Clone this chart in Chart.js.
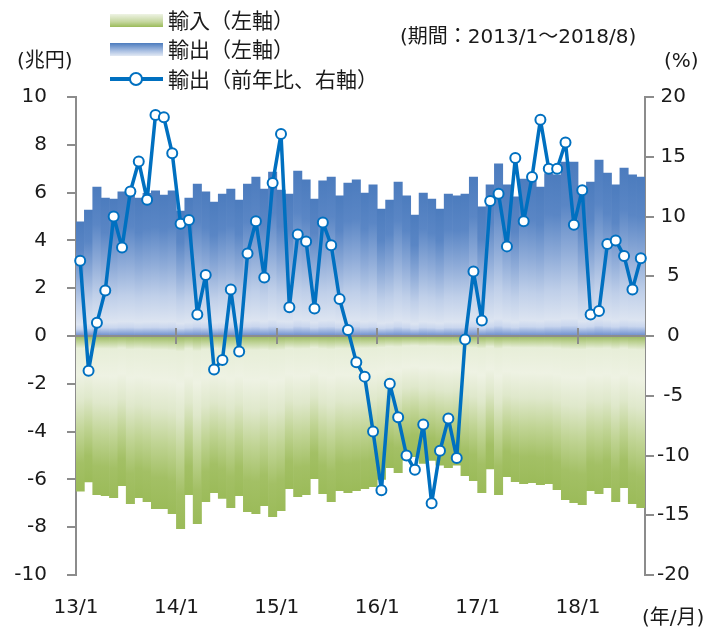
<!DOCTYPE html>
<html><head><meta charset="utf-8">
<script src="https://cdn.jsdelivr.net/npm/chart.js@4.4.0/dist/chart.umd.min.js"></script>
<style>
html,body{margin:0;padding:0;background:#fff;}
#wrap{position:relative;width:710px;height:632px;font-family:"DejaVu Sans","Noto Sans CJK JP",sans-serif;color:#1a1a1a;}
canvas{position:absolute;left:0;top:0;}
.t{position:absolute;white-space:nowrap;line-height:1;}
.jp{font-family:"Noto Sans CJK JP",sans-serif;}
.sw{position:absolute;}
</style></head><body>
<div id="wrap">
<canvas id="c" width="710" height="632"></canvas>
<div class="sw" style="left:110px;top:14px;width:53px;height:13px;background:linear-gradient(#eef3e4,#c5d79f 60%,#9bbb59);"></div>
<div class="t jp" style="left:168px;top:9px;font-size:21px;">輸入（左軸）</div>
<div class="sw" style="left:110px;top:43px;width:53px;height:13px;background:linear-gradient(#4c7cbe,#a9bfe2 60%,#e2e9f4);"></div>
<div class="t jp" style="left:168px;top:38px;font-size:21px;">輸出（左軸）</div>
<div class="sw" style="left:110px;top:77px;width:53px;height:4px;background:#0070c0;"></div>
<div class="sw" style="left:129px;top:72px;width:10px;height:10px;border:2px solid #0070c0;border-radius:50%;background:#fff;"></div>
<div class="t jp" style="left:168px;top:68px;font-size:21px;">輸出（前年比、右軸）</div>
<div class="t" style="left:400px;top:26px;font-size:20px;">(期間：2013/1～2018/8)</div>
<div class="t" style="left:17px;top:50px;font-size:20px;">(兆円)</div>
<div class="t" style="left:664px;top:50px;font-size:20px;">(%)</div>
<div class="t" style="left:642px;top:607px;font-size:20px;">(年/月)</div>
</div>
<script>
// ---- data (2013/1 - 2018/8) ----
const years = ['13','14','15','16','17','18'];
const categories = [];
years.forEach(function(y){ for (let m = 1; m <= 12; m++) { if (y === '18' && m > 8) break; categories.push(y + '/' + m); } });

const exportsVal = [
  4.78,5.27,6.23,5.77,5.73,6.03,6.10,5.77,5.97,6.07,5.90,6.07,
  5.23,5.77,6.36,6.03,5.60,5.94,6.15,5.69,6.36,6.65,6.15,6.86,
  6.11,5.94,6.90,6.53,5.73,6.49,6.65,5.86,6.40,6.53,5.98,6.32,
  5.31,5.69,6.44,5.86,5.06,5.98,5.73,5.31,5.94,5.86,5.94,6.65,
  5.40,6.32,7.20,6.32,5.82,6.57,6.47,6.23,6.80,6.74,7.28,7.28,
  6.08,6.44,7.36,6.82,6.32,7.03,6.74,6.65
];
const importsVal = [
  -6.49,-6.11,-6.64,-6.68,-6.76,-6.26,-7.02,-6.76,-6.93,-7.22,-7.22,-7.43,
  -8.06,-6.64,-7.85,-6.93,-6.55,-6.80,-7.18,-6.68,-7.35,-7.43,-7.10,-7.56,
  -7.31,-6.39,-6.72,-6.64,-5.97,-6.60,-6.93,-6.47,-6.55,-6.47,-6.39,-6.30,
  -6.00,-5.51,-5.72,-5.20,-5.05,-5.33,-5.21,-5.40,-5.51,-5.40,-5.84,-6.05,
  -6.55,-5.56,-6.64,-5.89,-6.10,-6.18,-6.14,-6.22,-6.18,-6.43,-6.85,-6.97,
  -7.06,-6.47,-6.60,-6.35,-6.93,-6.35,-7.02,-7.18
];
const exportsYoY = [
  6.3,-2.9,1.1,3.8,10.0,7.4,12.1,14.6,11.4,18.5,18.3,15.3,
  9.4,9.7,1.8,5.1,-2.8,-2.0,3.9,-1.3,6.9,9.6,4.9,12.8,
  16.9,2.4,8.5,7.9,2.3,9.5,7.6,3.1,0.5,-2.2,-3.4,-8.0,
  -12.9,-4.0,-6.8,-10.0,-11.2,-7.4,-14.0,-9.6,-6.9,-10.2,-0.3,5.4,
  1.3,11.3,11.9,7.5,14.9,9.6,13.3,18.1,14.0,14.0,16.2,9.3,
  12.2,1.8,2.1,7.7,8.0,6.7,3.9,6.5
];
const xTickLabels = ['13/1','14/1','15/1','16/1','17/1','18/1'];
const xTickPos = [0,12,24,36,48,60];
const leftTicks = [-10,-8,-6,-4,-2,0,2,4,6,8,10];
const rightTicks = [-20,-15,-10,-5,0,5,10,15,20];

function exportFill(c){
  const chart = c.chart;
  if (!chart.chartArea || c.type !== 'data') return '#6a8fca';
  const ys = chart.scales.y;
  const top = ys.getPixelForValue(c.parsed.y), zero = ys.getPixelForValue(0);
  if (!isFinite(top) || top === zero) return '#6a8fca';
  const g = chart.ctx.createLinearGradient(0, top, 0, zero);
  g.addColorStop(0, '#4c7cbe');
  g.addColorStop(0.25, '#5a86c5');
  g.addColorStop(0.5, '#8eabd8');
  g.addColorStop(0.72, '#bfcfe9');
  g.addColorStop(0.9, '#dce4f1');
  g.addColorStop(0.94, '#c9d6ee');
  g.addColorStop(0.975, '#91abdb');
  g.addColorStop(1, '#6a8bca');
  return g;
}
function importFill(c){
  const chart = c.chart;
  if (!chart.chartArea || c.type !== 'data') return '#b5cc85';
  const ys = chart.scales.y;
  const bot = ys.getPixelForValue(c.parsed.y), zero = ys.getPixelForValue(0);
  if (!isFinite(bot) || bot === zero) return '#b5cc85';
  const g = chart.ctx.createLinearGradient(0, zero, 0, bot);
  g.addColorStop(0, '#98b75e');
  g.addColorStop(0.035, '#bcd192');
  g.addColorStop(0.08, '#e7eed8');
  g.addColorStop(0.25, '#eef2e3');
  g.addColorStop(0.42, '#dfe8cb');
  g.addColorStop(0.62, '#c0d494');
  g.addColorStop(0.82, '#a3c065');
  g.addColorStop(1, '#9bbb59');
  return g;
}

const zeroAxis = {
  id: 'zeroAxis',
  beforeDatasetDraw(chart, args) {
    if (args.index !== 0) return;
    const ctx = chart.ctx, a = chart.chartArea;
    const y0 = chart.scales.y.getPixelForValue(0);
    const xs = chart.scales.x2;
    ctx.save();
    ctx.strokeStyle = '#8c8c8c';
    ctx.lineWidth = 2;
    ctx.beginPath();
    ctx.moveTo(a.left, y0); ctx.lineTo(a.right, y0);
    xTickPos.forEach(function(v){ if (v === 0) return; const x = Math.round(xs.getPixelForValue(v)); ctx.moveTo(x, y0 - 8); ctx.lineTo(x, y0 + 8); });
    ctx.stroke();
    ctx.restore();
  }
};

const tickFont = { family: 'DejaVu Sans', size: 20 };
new Chart(document.getElementById('c'), {
  type: 'bar',
  data: {
    labels: categories,
    datasets: [
      { type: 'line', label: '輸出（前年比、右軸）', data: exportsYoY, yAxisID: 'y2', xAxisID: 'x',
        borderColor: '#0070c0', borderWidth: 3.5, tension: 0, borderJoinStyle: 'round', borderCapStyle: 'round',
        pointRadius: 5, pointBackgroundColor: '#ffffff', pointBorderColor: '#0070c0', pointBorderWidth: 2, order: 0 },
      { type: 'bar', label: '輸出（左軸）', data: exportsVal, yAxisID: 'y', xAxisID: 'x', grouped: false,
        backgroundColor: exportFill, borderWidth: 0, barPercentage: 1, categoryPercentage: 1, order: 1 },
      { type: 'bar', label: '輸入（左軸）', data: importsVal, yAxisID: 'y', xAxisID: 'x', grouped: false,
        backgroundColor: importFill, borderWidth: 0, barPercentage: 1, categoryPercentage: 1, order: 2 }
    ]
  },
  options: {
    responsive: false, animation: false, devicePixelRatio: 1,
    layout: { padding: { top: 97, left: 0, right: 0, bottom: 0 } },
    plugins: { legend: { display: false }, tooltip: { enabled: false } },
    scales: {
      x: { type: 'category', display: false, offset: true },
      x2: { type: 'linear', position: 'bottom', min: 0, max: 68, offset: false,
        afterBuildTicks: function(s){ s.ticks = xTickPos.map(function(v){ return { value: v }; }); },
        afterFit: function(s){ s.height = 57; },
        grid: { display: false, drawTicks: false, offset: false }, border: { display: false },
        ticks: { font: tickFont, color: '#1a1a1a', padding: 21, maxRotation: 0, autoSkip: false,
          callback: function(v){ const i = xTickPos.indexOf(v); return i >= 0 ? xTickLabels[i] : ''; } } },
      y: { position: 'left', min: -10, max: 10,
        afterBuildTicks: function(s){ s.ticks = leftTicks.map(function(v){ return { value: v }; }); },
        afterFit: function(s){ s.width = 76; },
        grid: { drawOnChartArea: false, drawTicks: true, tickLength: 9, color: '#8c8c8c', lineWidth: 2 },
        border: { display: true, color: '#8c8c8c', width: 2 },
        ticks: { font: tickFont, color: '#1a1a1a', padding: 20 } },
      y2: { position: 'right', min: -20, max: 20,
        afterBuildTicks: function(s){ s.ticks = rightTicks.map(function(v){ return { value: v }; }); },
        afterFit: function(s){ s.width = 65; },
        grid: { drawOnChartArea: false, drawTicks: true, tickLength: 9, color: '#8c8c8c', lineWidth: 2 },
        border: { display: true, color: '#8c8c8c', width: 2 },
        ticks: { font: tickFont, color: '#1a1a1a', padding: 3, crossAlign: 'center' } }
    }
  },
  plugins: [zeroAxis]
});
</script>
</body></html>
